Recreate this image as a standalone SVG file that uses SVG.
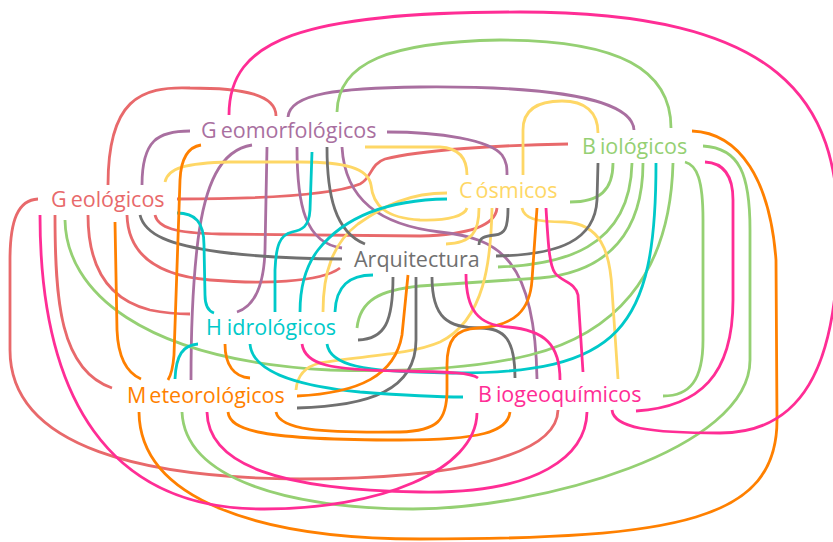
<svg xmlns="http://www.w3.org/2000/svg" width="833" height="542" viewBox="0 0 833 542">
  <style>
    .e path{fill:none;stroke-width:2.8;stroke-linecap:butt}
    .geo{stroke:#e8696b} .gmf{stroke:#a96fa0} .bio{stroke:#95d073} .cos{stroke:#fed766}
    .arq{stroke:#707070} .hid{stroke:#00c9c9} .met{stroke:#ff8000} .bgq{stroke:#ff2d95}
    text{font-family:"Open Sans","Noto Sans",sans-serif;font-size:21.5px}
  </style>
  <rect width="833" height="542" fill="#ffffff"/>
  <g id="connectors" class="e">
    <!-- Geológicos -->
    <path class="geo" d="M276 116 C 276 95, 245 88, 190 88 C 140 86, 108 100, 108 185"/>
    <path class="geo" d="M177 199 C 250 199, 330 196, 360 184 C 372 178, 370 164, 385 159 C 420 150, 500 145, 568 144"/>
    <path class="geo" d="M155 215 C 158 228, 175 233, 220 234 L 420 236 C 460 235, 495 228, 497 208"/>
    <path class="geo" d="M127 215 C 128 250, 150 275, 210 280 C 260 284, 320 283, 340 268"/>
    <path class="geo" d="M88 215 C 88 270, 110 300, 150 310 C 165 313, 180 314, 190 314"/>
    <path class="geo" d="M55 215 C 55 300, 60 370, 112 388"/>
    <path class="geo" d="M38 199 C 18 200, 10 220, 10 260 L 10 350 C 10 450, 150 478, 300 479 C 460 479, 557 455, 558 410"/>
    <!-- Geomorfológicos -->
    <path class="gmf" d="M288 117 C 290 93, 340 88, 420 87 C 530 86, 632 95, 634 130"/>
    <path class="gmf" d="M190 131 C 158 131, 142 140, 142 185"/>
    <path class="gmf" d="M387 132 C 440 132, 490 140, 502 155 C 507 162, 507 168, 507 175"/>
    <path class="gmf" d="M252 145 C 220 150, 205 185, 198 240 C 193 280, 191 330, 191 380"/>
    <path class="gmf" d="M267 147 L 265 250 C 264 285, 255 306, 237 312"/>
    <path class="gmf" d="M297 147 C 297 205, 305 243, 342 248"/>
    <path class="gmf" d="M342 147 C 345 200, 380 225, 440 232 C 500 238, 535 260, 537 379"/>
    <!-- Biológicos -->
    <path class="bio" d="M337 112 C 338 62, 390 42, 500 40 C 620 40, 671 70, 671 128"/>
    <path class="bio" d="M65 220 C 66 290, 140 360, 330 370 C 400 372, 470 370, 530 355 C 610 335, 670 280, 673 163"/>
    <path class="bio" d="M182 412 C 185 480, 290 508, 413 509 C 540 509, 750 450, 750 360 L 750 230 C 750 175, 740 148, 703 146"/>
    <path class="bio" d="M613 163 C 613 190, 600 202, 570 202"/>
    <path class="bio" d="M498 267 C 560 265, 630 250, 632 163"/>
    <path class="bio" d="M357 328 C 360 300, 380 290, 420 286 L 540 278 C 610 272, 643 230, 643 163"/>
    <path class="bio" d="M685 162 C 697 165, 703 180, 703 220 L 703 340 C 703 380, 690 396, 663 396"/>
    <!-- Cósmicos -->
    <path class="cos" d="M165 182 C 168 168, 185 163, 230 162 L 300 162 C 345 162, 368 168, 371 185 C 373 205, 385 218, 420 220 C 450 221, 465 215, 467 208"/>
    <path class="cos" d="M365 147 L 440 147 C 458 148, 467 158, 467 175"/>
    <path class="cos" d="M523 175 L 523 130 C 523 108, 540 101, 562 101 C 585 101, 598 112, 598 133"/>
    <path class="cos" d="M522 208 C 524 218, 535 222, 565 222 C 600 224, 610 250, 612 290 L 618 379"/>
    <path class="cos" d="M492 208 C 491 260, 485 320, 440 342 C 410 355, 360 356, 320 363 C 303 367, 297 378, 296 390"/>
    <path class="cos" d="M479 208 C 479 232, 472 243, 446 244"/>
    <path class="cos" d="M323 312 C 323 272, 333 243, 358 224 C 385 205, 410 193, 447 193"/>
    <!-- Arquitectura -->
    <path class="arq" d="M140 215 C 145 235, 170 245, 220 252 C 260 257, 300 259, 342 259"/>
    <path class="arq" d="M327 147 C 327 195, 335 232, 365 244"/>
    <path class="arq" d="M598 163 L 597 200 C 595 240, 560 255, 496 256"/>
    <path class="arq" d="M508 208 C 508 228, 505 234, 495 235 C 484 236, 479 238, 479 245"/>
    <path class="arq" d="M358 340 C 385 339, 393 322, 393 277"/>
    <path class="arq" d="M297 408 C 370 406, 416 390, 416 340 L 416 277"/>
    <path class="arq" d="M432 277 C 432 318, 448 328, 480 328 C 505 328, 515 340, 515 378"/>
    <!-- Hidrológicos -->
    <path class="hid" d="M177 213 C 195 213, 204 222, 204 245 L 205 295 C 205 305, 208 311, 214 313"/>
    <path class="hid" d="M312 152 L 310 210 C 309 227, 302 230, 292 232 C 280 235, 276 245, 275 270 L 275 312"/>
    <path class="hid" d="M447 199 C 380 200, 340 222, 318 250 C 305 267, 300 290, 300 312"/>
    <path class="hid" d="M373 275 C 350 275, 336 285, 335 312"/>
    <path class="hid" d="M198 344 C 183 345, 176 355, 175 379"/>
    <path class="hid" d="M250 344 C 252 370, 290 385, 360 392 C 400 395, 430 397, 463 397"/>
    <path class="hid" d="M327 344 C 330 365, 360 372, 450 373 C 620 374, 656 330, 656 163"/>
    <!-- Meteorológicos -->
    <path class="met" d="M692 131 C 740 133, 770 180, 776 260 L 777 420 C 777 520, 680 539, 420 539 C 260 539, 140 500, 139 412"/>
    <path class="met" d="M201 145 C 188 147, 181 158, 180 180 L 174 355 C 173 368, 171 375, 168 380"/>
    <path class="met" d="M115 222 L 117 330 C 118 355, 125 372, 141 379"/>
    <path class="met" d="M225 344 C 225 365, 234 377, 250 378"/>
    <path class="met" d="M297 396 C 360 393, 395 375, 402 335 L 408 275"/>
    <path class="met" d="M228 412 C 230 430, 260 440, 400 440 C 480 440, 508 432, 510 412"/>
    <path class="met" d="M276 412 C 280 430, 320 433, 400 432 C 438 431, 447 420, 447 390 L 447 365 C 447 340, 455 329, 478 328 C 515 326, 530 310, 532 280 L 537 208"/>
    <!-- Biogeoquímicos -->
    <path class="bgq" d="M229 115 C 229 40, 300 12, 520 12 C 780 12, 840 100, 838 235 C 838 370, 800 433, 720 433 C 650 433, 614 428, 612 410"/>
    <path class="bgq" d="M40 215 C 40 400, 110 508, 260 509 C 380 510, 476 470, 477 413"/>
    <path class="bgq" d="M207 412 C 208 465, 280 490, 420 492 C 540 494, 586 455, 587 412"/>
    <path class="bgq" d="M636 411 C 700 407, 733 375, 733 300 L 733 200 C 733 178, 725 163, 705 162"/>
    <path class="bgq" d="M546 208 C 548 240, 549 265, 555 273 C 562 282, 575 282, 578 295 L 583 372"/>
    <path class="bgq" d="M466 274 C 466 310, 478 325, 508 327 C 545 330, 560 345, 560 380"/>
    <path class="bgq" d="M302 344 C 305 365, 330 370, 400 371 C 445 372, 470 372, 478 378"/>
  </g>
  <g id="geomorfologicos"><text x="201" y="138" fill="#a96fa0">G<tspan dx="4">eomorfológicos</tspan></text></g>
  <g id="geologicos"><text x="51" y="207" fill="#e8696b">G<tspan dx="4">eológicos</tspan></text></g>
  <g id="biologicos"><text x="582" y="154" fill="#95d073">B<tspan dx="4">iológicos</tspan></text></g>
  <g id="cosmicos"><text x="459" y="198" fill="#fed766">C<tspan dx="3">ósmicos</tspan></text></g>
  <g id="arquitectura"><text x="354" y="267" fill="#707070">Arquitectura</text></g>
  <g id="hidrologicos"><text x="206" y="335" fill="#00c9c9">H<tspan dx="5">idrológicos</tspan></text></g>
  <g id="meteorologicos"><text x="127" y="403" fill="#ff8000">M<tspan dx="3">eteorológicos</tspan></text></g>
  <g id="biogeoquimicos"><text x="478" y="402" fill="#ff2d95">B<tspan dx="4">iogeoquímicos</tspan></text></g>
</svg>
